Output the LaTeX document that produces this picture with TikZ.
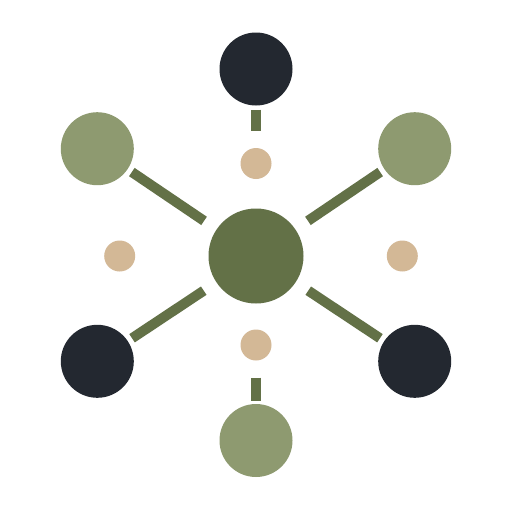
\documentclass[tikz,border=0pt]{standalone}
\definecolor{darknode}{HTML}{232830}
\definecolor{sage}{HTML}{8E9A70}
\definecolor{olive}{HTML}{637147}
\definecolor{tan}{HTML}{D3B896}
\tikzset{
  big/.style={circle,inner sep=0pt,minimum size=73pt,fill=#1},
  hub/.style={circle,inner sep=0pt,minimum size=95pt,fill=olive},
  dot/.style={circle,inner sep=0pt,minimum size=31pt,fill=tan},
  bar/.style={draw=olive,line width=10pt,line cap=butt},
}
\begin{document}
\begin{tikzpicture}[x=1pt,y=-1pt]
\useasboundingbox[fill=white] (0,0) rectangle (512,512);
\node[hub] (c) at (256,256) {};
\node[big=darknode] (t) at (256,69) {};
\node[big=sage] (tl) at (97.3,148.7) {};
\node[big=sage] (tr) at (414.7,148.7) {};
\node[big=darknode] (bl) at (97.3,361.3) {};
\node[big=darknode] (br) at (414.7,361.3) {};
\node[big=sage] (b) at (256,440.5) {};
\node[dot] (dt) at (256,163.5) {};
\node[dot] (db) at (256,345) {};
\node[dot] (dl) at (119.7,256) {};
\node[dot] (dr) at (402.3,256) {};
\draw[bar,shorten <=4pt,shorten >=17pt] (t) -- (dt);
\draw[bar,shorten <=17pt,shorten >=3pt] (db) -- (b);
\draw[bar,shorten <=5pt,shorten >=15pt] (tl) -- (c);
\draw[bar,shorten <=5pt,shorten >=15pt] (tr) -- (c);
\draw[bar,shorten <=5pt,shorten >=15pt] (bl) -- (c);
\draw[bar,shorten <=5pt,shorten >=15pt] (br) -- (c);
\end{tikzpicture}
\end{document}
